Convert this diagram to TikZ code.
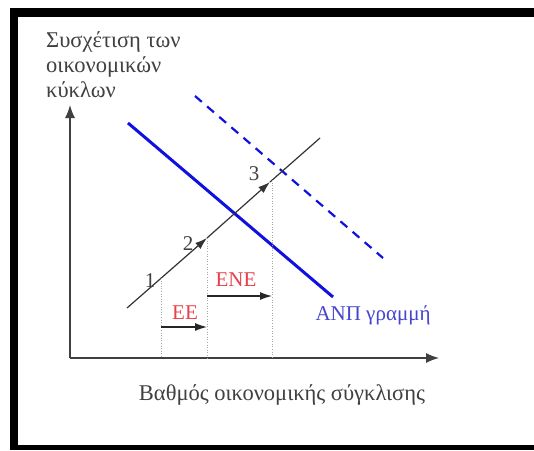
\documentclass[tikz,border=0pt]{standalone}
\usepackage{fontspec}
\setmainfont{Liberation Serif}
\usetikzlibrary{arrows.meta}
\definecolor{txtgray}{HTML}{404040}
\definecolor{lblred}{HTML}{E8404A}
\definecolor{lineblue}{HTML}{1010E0}
\definecolor{lblblue}{HTML}{4444D0}
\begin{document}
\begin{tikzpicture}[x=1pt,y=-1pt,
  axis/.style={draw=txtgray,line width=1.3pt,-{Latex[length=13pt,width=10pt]}},
  guide/.style={draw=gray!70,line width=0.6pt,dotted},
  shiftarrow/.style={draw=black!85,line width=1.2pt,-{Latex[length=12pt,width=8pt]}},
  pathline/.style={draw=black!80,line width=1.2pt},
  axlabel/.style={text=txtgray,font=\fontsize{22.5}{25}\selectfont,inner sep=0pt},
  numlabel/.style={text=txtgray,font=\fontsize{21}{24}\selectfont,inner sep=0pt},
  redlabel/.style={text=lblred,font=\fontsize{21}{24}\selectfont,inner sep=0pt}]
\useasboundingbox (0,0) rectangle (534,450);
% frame
\fill[white] (0,0) rectangle (534,450);
\fill[black] (10,8) rectangle (534,17);
\fill[black] (10,8) rectangle (18,450);
\fill[black] (10,445) rectangle (534,450);
% axes
\coordinate (o) at (70,358);
\coordinate (ytip) at (70,105);
\coordinate (xtip) at (439,358);
\draw[axis] (o) -- (ytip);
\draw[axis] (o) -- (xtip);
% blue lines
\coordinate (b0) at (128,123);
\coordinate (b1) at (333,297);
\draw[lineblue,line width=3pt] (b0) -- (b1);
\coordinate (c0) at (195,96);
\coordinate (c1) at (383,258);
\draw[lineblue,line width=2.2pt,dash pattern=on 9pt off 7pt] (c0) -- (c1);
% diagonal path
\coordinate (d0) at (127,308);
\coordinate (d1) at (320,138);
\coordinate (p1) at (161,278);
\coordinate (p2) at (207,238);
\coordinate (p3) at (270,182);
\coordinate (q1) at (161,358);
\coordinate (q2) at (207,358);
\coordinate (q3) at (272,358);
\draw[pathline,-{Latex[length=12pt,width=8pt]}] (d0) -- (p2);
\draw[pathline,-{Latex[length=12pt,width=8pt]}] (p2) -- (p3);
\draw[pathline] (p3) -- (d1);
% guides
\draw[guide] (p1) -- (q1);
\draw[guide] (p2) -- (q2);
\draw[guide] (272,180) -- (q3);
% shift arrows
\coordinate (e0) at (161,327);
\coordinate (e1) at (207,327);
\coordinate (f0) at (207,296);
\coordinate (f1) at (272,296);
\draw[shiftarrow] (e0) -- (e1);
\draw[shiftarrow] (f0) -- (f1);
% labels
\node[redlabel] (ee) at (185,313) {ΕΕ};
\node[redlabel] (ene) at (236,280) {ΕΝΕ};
\node[numlabel] (n1) at (150,281) {1};
\node[numlabel] (n2) at (188,244) {2};
\node[numlabel] (n3) at (254,174) {3};
\node[text=lblblue,font=\fontsize{21}{24}\selectfont,inner sep=0pt] (anp) at (373,315) {ΑΝΠ γραμμή};
\node[axlabel] (xl) at (282,395) {Βαθμός οικονομικής σύγκλισης};
\node[axlabel,anchor=north west,align=left] (yl) at (46,31) {Συσχέτιση των\\οικονομικών\\κύκλων};
\end{tikzpicture}
\end{document}
